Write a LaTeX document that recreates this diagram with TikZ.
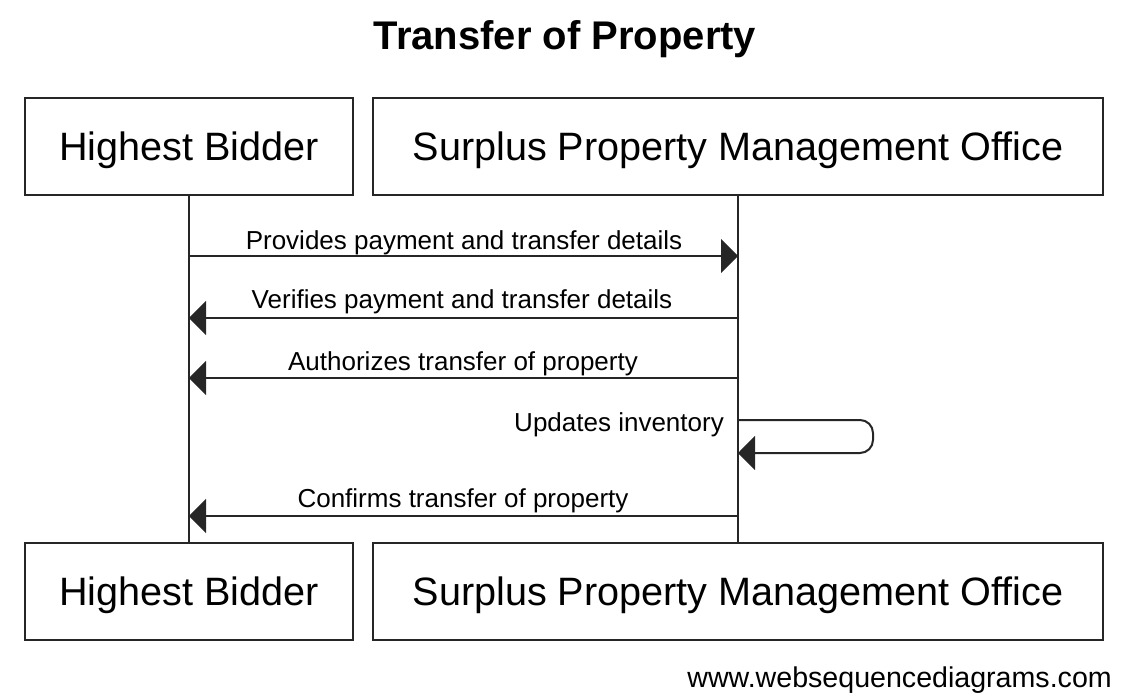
\documentclass[tikz,border=0pt]{standalone}
\usepackage{fontspec}
\setmainfont{Liberation Sans}
\usetikzlibrary{arrows.meta}
\begin{document}
\begin{tikzpicture}[x=1pt,y=-1pt,
  actor/.style={draw=black!85, line width=2pt, minimum width=#1, minimum height=97pt,
    inner sep=0pt, text height=28pt, text depth=0pt, font=\fontsize{39.6}{47}\selectfont},
  lifeline/.style={line width=2pt, draw=black!85},
  msg/.style={line width=2pt, draw=black!85, -{Triangle[length=17pt,width=34pt]}},
  lbl/.style={font=\fontsize{26}{31}\selectfont, anchor=base, inner sep=0pt}]
\useasboundingbox (0,0) rectangle (1126,698);
\node[font=\bfseries\fontsize{40}{48}\selectfont, anchor=base, inner sep=0pt] (title) at (565,50) {Transfer of Property};
\node[actor=328pt] (hb) at (189,146.5) {Highest Bidder};
\node[actor=730pt] (sp) at (738,146.5) {Surplus Property Management Office};
\node[actor=328pt] (hb2) at (189,591) {Highest Bidder};
\node[actor=730pt] (sp2) at (738,591) {Surplus Property Management Office};
\draw[lifeline] (hb.south) -- (hb2.north);
\draw[lifeline] (sp.south) -- (sp2.north);
% messages
\draw[msg] (hb.south |- 0,256) -- (sp.south |- 0,256);
\node[lbl] (l1) at (464,249) {Provides payment and transfer details};
\draw[msg] (sp.south |- 0,318) -- (hb.south |- 0,318);
\node[lbl] (l2) at (462,308) {Verifies payment and transfer details};
\draw[msg] (sp.south |- 0,378) -- (hb.south |- 0,378);
\node[lbl] (l3) at (463,370) {Authorizes transfer of property};
\draw[msg, rounded corners=13pt] (sp.south |- 0,420) -- (873,420) -- (873,453) -- (sp.south |- 0,453);
\node[lbl, anchor=base east] (l4) at (724,431) {Updates inventory};
\draw[msg] (sp.south |- 0,516) -- (hb.south |- 0,516);
\node[lbl] (l5) at (463,507) {Confirms transfer of property};
\node[font=\fontsize{28.6}{34}\selectfont, anchor=base east, inner sep=0pt] (wm) at (1112,687) {www.websequencediagrams.com};
\end{tikzpicture}
\end{document}
